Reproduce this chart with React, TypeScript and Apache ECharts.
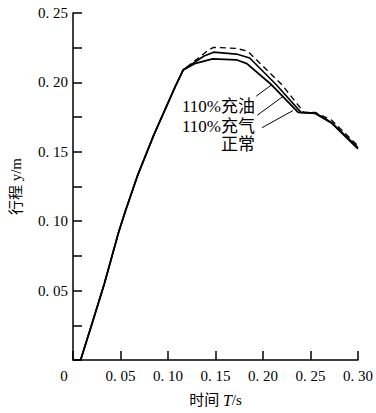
import React, { useEffect, useRef } from "react";
import * as echarts from "echarts";

// Shared rising part (time s, travel m)
const riseT = [0.008, 0.019, 0.033, 0.048, 0.055, 0.068, 0.085, 0.107, 0.116];
const riseY = [0, 0.024, 0.055, 0.092, 0.107, 0.133, 0.162, 0.196, 0.209];

// 正常
const normalT = [0.128, 0.147, 0.172, 0.183, 0.209, 0.237, 0.255, 0.272, 0.3];
const normalY = [0.2135, 0.2169, 0.2163, 0.2135, 0.1983, 0.1784, 0.1777, 0.1708, 0.1522];

// 110%充气
const gasT = [0.138, 0.148, 0.172, 0.186, 0.214, 0.24, 0.255, 0.272, 0.3];
const gasY = [0.219, 0.2218, 0.2204, 0.2176, 0.1983, 0.1784, 0.178, 0.1712, 0.153];

// 110%充油 (dashed)
const oilT = [0.132, 0.142, 0.148, 0.172, 0.184, 0.22, 0.243, 0.255, 0.272, 0.3];
const oilY = [0.2176, 0.2231, 0.2252, 0.2245, 0.2224, 0.1983, 0.1784, 0.1784, 0.1729, 0.1543];

const seriesNames = ["110%充油", "110%充气", "正常"];

// leader lines [t0, y0, t1, y1]
const leaders = [
  [0.1929, 0.1901, 0.2092, 0.1983],
  [0.1939, 0.1763, 0.2214, 0.1901],
  [0.199, 0.1674, 0.2316, 0.1797],
];

const xTicks = [0, 0.05, 0.1, 0.15, 0.2, 0.25, 0.3];

const zip = (t: number[], y: number[]) => t.map((v, i) => [v, y[i]]);
const withRise = (t: number[], y: number[]) => [...zip(riseT, riseY), ...zip(t, y)];

const fmt = (v: number) => (Math.abs(v) < 1e-9 ? "" : v.toFixed(2).replace(".", ". "));

const NUM_FONT = "'Liberation Serif', 'Noto Sans CJK SC', serif";
const CJK_FONT = "'Liberation Serif', 'Noto Sans CJK SC', serif";

export default function App() {
  const ref = useRef<HTMLDivElement>(null);
  useEffect(() => {
    if (!ref.current) return;
    const chart = echarts.init(ref.current, null, { renderer: "svg" });
    const lineBase = { type: "line" as const, showSymbol: false, symbol: "none", smooth: false };
    chart.setOption({
      animation: false,
      backgroundColor: "#fff",
      grid: { left: 68, right: 14, top: 13, bottom: 37, containLabel: false },
      xAxis: {
        type: "value",
        min: 0,
        max: 0.3,
        interval: 0.05,
        name: "时间 {i|T}/s",
        nameLocation: "middle",
        nameGap: 32,
        nameTextStyle: {
          fontFamily: CJK_FONT,
          fontSize: 15,
          color: "#000",
          rich: { i: { fontStyle: "italic", fontFamily: NUM_FONT, fontSize: 16, color: "#000" } },
        },
        axisLine: { lineStyle: { color: "#000", width: 1.5 } },
        axisTick: { inside: true, length: 9, lineStyle: { color: "#000", width: 1.5 } },
        splitLine: { show: false },
        axisLabel: {
          margin: 8,
          color: "#000",
          fontFamily: NUM_FONT,
          fontSize: 15,
          formatter: (v: number) => (Math.abs(v) < 1e-9 ? "{z|0}" : v.toFixed(2).replace(".", ". ")),
          rich: { z: { padding: [0, 18, 0, 0], fontFamily: NUM_FONT, fontSize: 15, color: "#000" } },
          customValues: xTicks,
        },
      },
      yAxis: {
        type: "value",
        min: 0,
        max: 0.25,
        interval: 0.05,
        name: "行程 y/m",
        nameLocation: "middle",
        nameGap: 50,
        nameTextStyle: { fontFamily: CJK_FONT, fontSize: 15, color: "#000" },
        axisLine: { show: true, lineStyle: { color: "#000", width: 1.5 } },
        axisTick: { show: true, inside: true, length: 9, lineStyle: { color: "#000", width: 1.5 } },
        minorTick: { show: true, splitNumber: 2, length: 9, lineStyle: { color: "#000", width: 1.5 } },
        splitLine: { show: false },
        axisLabel: { color: "#000", fontFamily: NUM_FONT, fontSize: 15, margin: 5, formatter: fmt },
      },
      series: [
        {
          ...lineBase,
          name: seriesNames[0],
          data: [[0, 0], ...withRise(oilT, oilY)],
          lineStyle: { color: "#000", width: 1.3, type: [6, 4] },
        },
        {
          ...lineBase,
          name: seriesNames[1],
          data: withRise(gasT, gasY),
          lineStyle: { color: "#000", width: 1.6 },
        },
        {
          ...lineBase,
          name: seriesNames[2],
          data: withRise(normalT, normalY),
          lineStyle: { color: "#000", width: 1.8 },
          markLine: {
            silent: true,
            symbol: ["none", "none"],
            label: { show: false },
            lineStyle: { color: "#000", width: 1, type: "solid" },
            data: leaders.map((l) => [{ coord: [l[0], l[1]] }, { coord: [l[2], l[3]] }]),
          },
        },
      ],
      graphic: [
        { type: "text", x: 255, y: 106, style: { text: seriesNames[0], font: `17px ${CJK_FONT}`, fill: "#000", align: "right", verticalAlign: "middle" } },
        { type: "text", x: 255, y: 126, style: { text: seriesNames[1], font: `17px ${CJK_FONT}`, fill: "#000", align: "right", verticalAlign: "middle" } },
        { type: "text", x: 255, y: 144, style: { text: seriesNames[2], font: `17px ${CJK_FONT}`, fill: "#000", align: "right", verticalAlign: "middle" } },
      ],
    });
    return () => chart.dispose();
  }, []);
  return <div ref={ref} style={{ width: 376, height: 413, position: "absolute", left: 0, top: 0 }} />;
}
